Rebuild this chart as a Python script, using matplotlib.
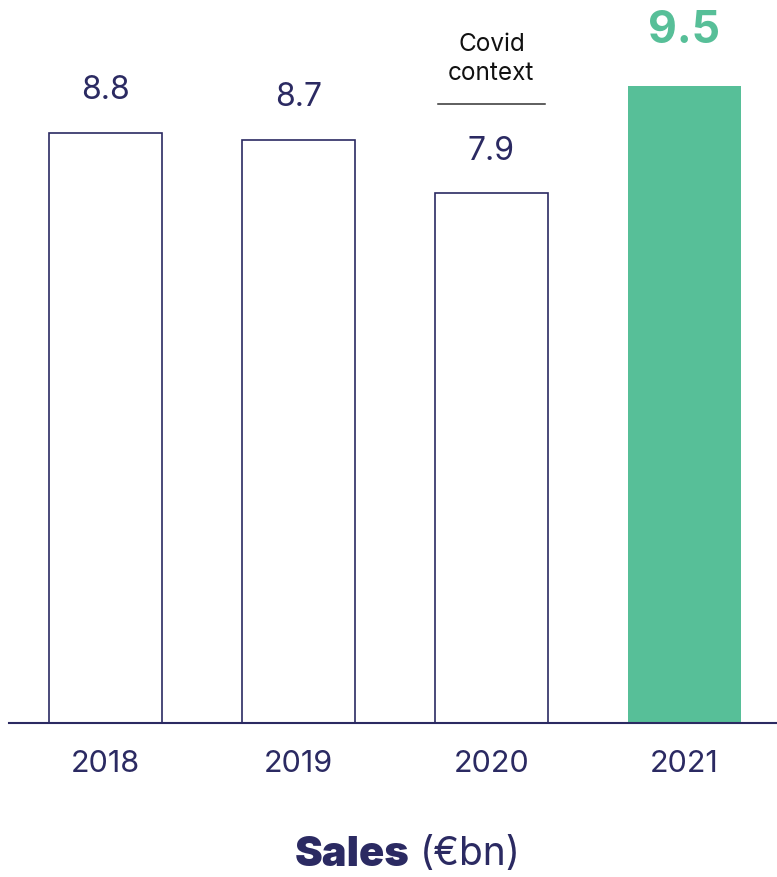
import matplotlib.pyplot as plt

years = ["2018", "2019", "2020", "2021"]
sales = [8.8, 8.7, 7.9, 9.5]
highlight = "2021"
note_year = "2020"
note_lines = ["Covid", "context"]

NAVY = "#2b2a62"
GREEN = "#57bf98"

plt.rcParams['font.family'] = ['Inter', 'DejaVu Sans']

fig = plt.figure(figsize=(7.77, 8.78), dpi=100)
ax = fig.add_axes([9 / 777, 154 / 878, 768 / 777, 724 / 878])

x = list(range(len(years)))
for i, (yr, v) in enumerate(zip(years, sales)):
    if yr == highlight:
        ax.bar(i, v, width=0.585, color=GREEN, edgecolor=GREEN, linewidth=0)
        ax.annotate(f"{v}", (i, v), xytext=(0, 40), textcoords="offset points",
                    ha="center", va="center", fontsize=32, fontweight="bold",
                    color=GREEN)
    else:
        ax.bar(i, v, width=0.585, color="white", edgecolor=NAVY, linewidth=1.2)
        ax.annotate(f"{v}", (i, v), xytext=(0, 31), textcoords="offset points",
                    ha="center", va="center", fontsize=23, color=NAVY)

# covid note above the 2020 bar
ni = years.index(note_year)
nv = sales[ni]
ax.annotate(note_lines[0], (ni, nv), xytext=(0, 108), textcoords="offset points",
            ha="center", va="center", fontsize=17.5, color="#111111")
ax.annotate(note_lines[1], (ni, nv), xytext=(0, 87), textcoords="offset points",
            ha="center", va="center", fontsize=17.5, color="#111111")
ax.plot([ni - 0.277, ni + 0.277], [nv + 1.33, nv + 1.33], color="#333333",
        linewidth=1.1, clip_on=False)

ax.set_xlim(-0.5, 3.48)
ax.set_ylim(0, 724 / 67.05)
ax.set_xticks(x)
ax.set_xticklabels(years, fontsize=22, color=NAVY)
ax.tick_params(axis="x", length=0, pad=19)
ax.set_yticks([])
for s in ["top", "left", "right"]:
    ax.spines[s].set_visible(False)
ax.spines["bottom"].set_color(NAVY)
ax.spines["bottom"].set_linewidth(1.5)

fig.text(410 / 777, 23 / 878, "Sales", ha="right", va="center",
         fontsize=30, fontweight="black", color=NAVY)
fig.text(420 / 777, 23 / 878, "(€bn)", ha="left", va="center",
         fontsize=28, color=NAVY)

fig.savefig("out.png", dpi=100)
